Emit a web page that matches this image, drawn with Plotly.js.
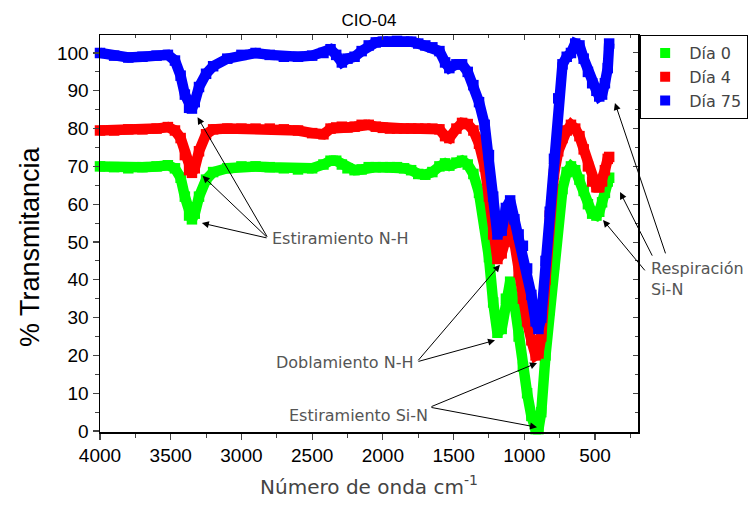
<!DOCTYPE html>
<html>
<head>
<meta charset="utf-8">
<script src="https://cdn.plot.ly/plotly-3.0.1.min.js"></script>
<style>body{margin:0;padding:0;background:#fff}#chart{width:750px;height:506px}</style>
</head>
<body>
<div id="chart"></div>
<script>
// Wavenumber (cm^-1)
var wavenumber = [4000,3900,3800,3700,3600,3520,3470,3430,3400,3370,3350,3330,3300,3250,3200,3100,3000,2900,2800,2700,2600,2500,2420,2370,2330,2290,2250,2200,2150,2100,2050,2000,1950,1900,1850,1800,1750,1700,1650,1600,1560,1530,1480,1440,1400,1360,1320,1280,1250,1220,1190,1160,1130,1100,1070,1040,1010,980,950,920,900,880,850,820,790,760,730,700,670,640,610,580,550,520,490,470,450,430,410,400];

var dia0 = [70,69.8,69.5,69.8,70,70.3,69.5,67,62,57,56,57.5,62,66.5,68.5,69.5,70,70,69.8,69.5,69.2,69.5,70.5,71.5,71.5,70.5,69.5,69,69.2,69.8,69.8,69.8,69.8,69.8,69.5,69,68,67.8,68.5,70,70.8,70.2,71,71.5,70.5,68,63,55,46,34,26,27,35,39.5,34,25,17,10,4,0.5,0.5,5,20,32,44,56,64,68.5,70,69,66.5,63.5,60,57.5,57,58,60.5,63,66,67];

var dia4 = [79.5,79.5,79.8,79.8,80,80.4,79.5,77.5,73,69,68.3,69.5,74,78.5,79.8,80,80,80,80,79.8,79.5,78.8,78.5,80,80.3,80.5,80.3,80.5,81,81,80.5,80.2,80,80,80,80,80,80,80,79.8,78,77.5,80,81.5,81.2,79.5,76,70,62,52,45.5,47,52,55,50,42,35,29,24,20,20.5,25,40,57,68,74,77.5,79.5,81,80,78,74.5,70,66,64.5,64.5,66,69,72,72.5];

var dia75 = [100,99.3,98.8,99,99.3,99.5,98,94,89,85.5,85.3,87,91,94.5,96.5,98.5,99.5,100,99.5,99,99,99.3,100,101,99.5,97.5,98.5,99,100.5,102,102.8,103,103,103.2,103,103,102.5,102,101.5,100.5,97.5,96,97,97,95,91.5,87,81,73,62,52,53,59,61,56,52,49,43,36,29,27,30,45,58,72,88,97,99,100,102.5,102,98.5,95,92,90,88.5,89,92,96,102.5];

var seriesNames = ["Día 0", "Día 4", "Día 75"];
var seriesColors = ["#00ff00", "#ff0000", "#0000ff"];
var seriesValues = [dia0, dia4, dia75];

var xTickVals = [4000,3500,3000,2500,2000,1500,1000,500];
var yTickVals = [0,10,20,30,40,50,60,70,80,90,100];

var traces = [];
for (var i = 0; i < 3; i++) {
  traces.push({
    x: wavenumber, y: seriesValues[i], type: 'scatter', mode: 'lines+markers',
    line: {color: seriesColors[i], width: 10.5},
    marker: {symbol: 'square', size: 10.5, color: seriesColors[i]},
    showlegend: false, hoverinfo: 'skip', cliponaxis: false
  });
}
for (var j = 0; j < 3; j++) {
  traces.push({
    x: [null], y: [null], type: 'scatter', mode: 'markers', name: seriesNames[j],
    marker: {symbol: 'square', size: 10, color: seriesColors[j]}
  });
}

var annFont = {family: 'DejaVu Sans, sans-serif', size: 16, color: '#555555'};
function arrow(hx, hy, tx, ty) {
  return {x: hx, y: hy, ax: tx, ay: ty, xref: 'x', yref: 'y', axref: 'x', ayref: 'y',
          text: '', showarrow: true, arrowhead: 2, arrowsize: 1.4, arrowwidth: 1, arrowcolor: '#000'};
}
var annotations = [
  {x: 2800, y: 51, xref: 'x', yref: 'y', text: 'Estiramiento N-H', showarrow: false, xanchor: 'left', yanchor: 'middle', font: annFont},
  arrow(3280, 55, 2812, 51),
  arrow(3275, 67.5, 2812, 51),
  arrow(3310, 83, 2812, 51),
  {x: 1773, y: 18, xref: 'x', yref: 'y', text: 'Doblamiento N-H', showarrow: false, xanchor: 'right', yanchor: 'middle', font: annFont},
  arrow(1207, 24, 1759, 18.3),
  arrow(1172, 44, 1759, 18.3),
  {x: 1665, y: 4.2, xref: 'x', yref: 'y', text: 'Estiramiento Si-N', showarrow: false, xanchor: 'right', yanchor: 'middle', font: annFont},
  arrow(910, 18, 1667, 6.3),
  arrow(910, 1, 1667, 6.3),
  {x: 1.02, y: 0.385, xref: 'paper', yref: 'paper', text: 'Respiración<br>Si-N', showarrow: false, xanchor: 'left', yanchor: 'middle', align: 'left', font: annFont},
  arrow(359, 86.8, -2, 46.6),
  arrow(323, 63.2, 90, 46),
  arrow(443, 55.8, 139, 42.1),
  {x: -0.13, y: 0.466, xref: 'paper', yref: 'paper', text: '% Transmitancia', textangle: -90, showarrow: false, xanchor: 'center', yanchor: 'middle', font: {family: 'Liberation Sans, Arial, sans-serif', size: 27, color: '#000'}}
];

var layout = {
  width: 750, height: 506,
  margin: {l: 100, r: 112, t: 35, b: 74, autoexpand: false},
  paper_bgcolor: '#fff', plot_bgcolor: '#fff',
  font: {family: 'Liberation Sans, Arial, sans-serif', color: '#000'},
  title: {text: 'CIO-04', x: 0.5, xref: 'paper', y: 0.961, yanchor: 'middle', font: {size: 17, color: '#000', family: 'Liberation Sans, Arial, sans-serif'}},
  xaxis: {
    range: [4000, 196], tickvals: xTickVals, ticks: 'outside', ticklen: 6, tickwidth: 1.2,
    minor: {dtick: 250, tick0: 0, ticks: 'outside', ticklen: 4, tickwidth: 1},
    showline: true, linecolor: '#000', linewidth: 1.5, mirror: true, showgrid: false, zeroline: false,
    tickfont: {size: 19, color: '#000'},
    title: {text: 'Número de onda cm<sup>-1</sup>', standoff: 14, font: {family: 'DejaVu Sans, sans-serif', size: 20, color: '#444'}}
  },
  xaxis2: {
    overlaying: 'x', side: 'top', anchor: 'y', range: [4000, 196], tickvals: xTickVals,
    ticks: 'inside', ticklen: 5, showticklabels: false, showgrid: false, zeroline: false, showline: false,
    minor: {dtick: 250, tick0: 0, ticks: 'inside', ticklen: 3}
  },
  yaxis: {
    range: [-0.26, 104.76], tickvals: yTickVals, ticks: 'outside', ticklen: 6, tickwidth: 1.2,
    minor: {dtick: 5, tick0: 0, ticks: 'outside', ticklen: 4, tickwidth: 1},
    showline: true, linecolor: '#000', linewidth: 1.5, mirror: true, showgrid: false, zeroline: false,
    tickfont: {size: 19, color: '#000'}
  },
  yaxis2: {
    overlaying: 'y', side: 'right', anchor: 'x', range: [-0.26, 104.76], tickvals: yTickVals,
    ticks: 'inside', ticklen: 5, showticklabels: false, showgrid: false, zeroline: false, showline: false,
    minor: {dtick: 5, tick0: 0, ticks: 'inside', ticklen: 3}
  },
  legend: {
    x: 1.004, y: 1, xanchor: 'left', yanchor: 'top', bordercolor: '#000', borderwidth: 1,
    bgcolor: '#fff', font: {family: 'DejaVu Sans, sans-serif', size: 16, color: '#444'},
    itemwidth: 38, tracegroupgap: 0
  },
  annotations: annotations
};

// dummy trace to realise the mirror-axis ticks
traces.push({x: [null], y: [null], xaxis: 'x2', yaxis: 'y2', showlegend: false, hoverinfo: 'skip', type: 'scatter', mode: 'markers'});

Plotly.newPlot('chart', traces, layout, {displayModeBar: false, staticPlot: true});
</script>
</body>
</html>
